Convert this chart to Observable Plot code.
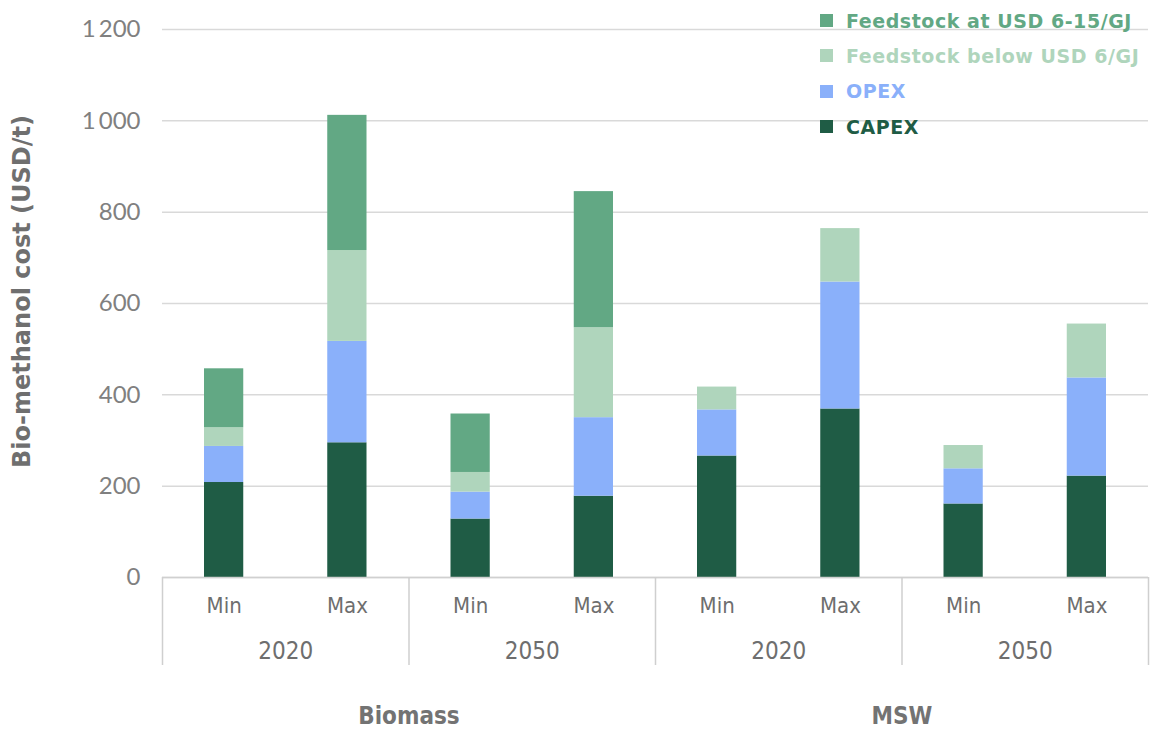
<!DOCTYPE html>
<html>
<head>
<meta charset="utf-8">
<script src="https://cdn.jsdelivr.net/npm/d3@7"></script>
<script src="https://cdn.jsdelivr.net/npm/@observablehq/plot@0.6"></script>
<style>
  html, body { margin: 0; padding: 0; background: #fff; overflow: hidden; }
  #wrap { position: relative; width: 1154px; height: 729px; }
  #wrap svg { overflow: visible; }
  #legend { position: absolute; left: 820px; top: 3px; font-family: "DejaVu Sans", sans-serif; font-weight: bold; font-size: 19px; letter-spacing: 0.55px; }
  #legend .row { display: flex; align-items: center; height: 35.3px; }
  #legend .sw { width: 13px; height: 13px; margin-right: 13px; }
</style>
</head>
<body>
<div id="wrap"><div id="legend"></div></div>
<script>
// ---- data ----
const categories = ["Biomass", "Biomass", "Biomass", "Biomass", "MSW", "MSW", "MSW", "MSW"];
const years = ["2020", "2020", "2050", "2050", "2020", "2020", "2050", "2050"];
const cases = ["Min", "Max", "Min", "Max", "Min", "Max", "Min", "Max"];
const capex = [208, 295, 128, 178, 266, 369, 161, 222];
const opex = [79, 222, 59, 172, 101, 278, 77, 215];
const feedLow = [41, 199, 43, 197, 50, 117, 51, 118];
const feedHigh = [129, 296, 128, 298, 0, 0, 0, 0];
const components = ["CAPEX", "OPEX", "Feedstock below USD 6/GJ", "Feedstock at USD 6-15/GJ"];
const colors = ["#1f5c45", "#8ab0fa", "#afd5bc", "#62a884"];
const legendOrder = ["Feedstock at USD 6-15/GJ", "Feedstock below USD 6/GJ", "OPEX", "CAPEX"];
const yTicks = [0, 200, 400, 600, 800, 1000, 1200];
const yLabel = "Bio-methanol cost (USD/t)";

// ---- table ----
const series = [capex, opex, feedLow, feedHigh];
const rows = [];
cases.forEach((c, i) => {
  components.forEach((comp, k) => {
    rows.push({i, category: categories[i], year: years[i], case: c, component: comp, value: series[k][i]});
  });
});

// group boundaries / midpoints derived from the category arrays
function groupsBy(keyFn) {
  const out = [];
  cases.forEach((_, i) => {
    const key = keyFn(i);
    if (out.length && out[out.length - 1].key === key) out[out.length - 1].end = i + 1;
    else out.push({key, start: i, end: i + 1});
  });
  return out;
}
const yearGroups = groupsBy(i => categories[i] + "|" + years[i]);
const catGroups = groupsBy(i => categories[i]);
const separators = [0, ...yearGroups.map(g => g.end)];

const fmt = d => d >= 1000 ? String(d).replace(/(\d)(\d{3})$/, "$1\u2009$2") : String(d);
const gray = "#808080";
const condensed = "'Liberation Sans Narrow', 'DejaVu Sans Condensed', 'Roboto', sans-serif";

const plot = Plot.plot({
  width: 1154,
  height: 729,
  marginTop: 29,
  marginBottom: 152,
  marginLeft: 162,
  marginRight: 6,
  style: {background: "#fff", fontFamily: "Lato, sans-serif", overflow: "visible"},
  x: {domain: [0, cases.length], label: null},
  y: {domain: [0, 1200], label: null},
  color: {domain: components, range: colors},
  marks: [
    Plot.gridY(yTicks, {stroke: "#d9d9d9", strokeOpacity: 1, strokeWidth: 1.5}),
    Plot.axisY(yTicks, {tickSize: 0, tickPadding: 22, tickFormat: fmt, fontSize: 24, fill: gray, label: null}),
    Plot.rectY(rows, {x1: d => d.i, x2: d => d.i + 1, y: "value", fill: "component", insetLeft: 42, insetRight: 42}),
    Plot.ruleY([0], {stroke: "#d0d0d0", strokeWidth: 1.5}),
    Plot.axisX(separators, {tickSize: 88, tickFormat: () => "", stroke: "#cfcfcf", strokeWidth: 1.5, label: null}),
    Plot.axisX(cases.map((_, i) => i + 0.5), {tickSize: 0, tickPadding: 20, tickFormat: d => cases[Math.floor(d)], fontSize: 22, fontFamily: condensed, fill: "#6e6e6e", label: null}),
    Plot.axisX(yearGroups.map(g => (g.start + g.end) / 2), {tickSize: 0, tickPadding: 64, tickFormat: d => years[d], fontSize: 24, fontFamily: condensed, fill: "#6e6e6e", label: null}),
    Plot.axisX(catGroups.map(g => (g.start + g.end) / 2), {tickSize: 0, tickPadding: 129, tickFormat: d => categories[d], fontSize: 24, fontWeight: "bold", fontFamily: condensed, fill: "#737373", label: null}),
    Plot.text([yLabel], {text: d => d, frameAnchor: "left", textAnchor: "middle", rotate: -90, dx: -140, dy: -12, fontSize: 24, fontWeight: "bold", fontFamily: "'DejaVu Sans', sans-serif", fill: "#6f6f6f"})
  ]
});
document.getElementById("wrap").prepend(plot);

// legend
const legend = document.getElementById("legend");
legendOrder.forEach(name => {
  const c = colors[components.indexOf(name)];
  const row = document.createElement("div");
  row.className = "row";
  row.innerHTML = `<div class="sw" style="background:${c}"></div><span style="color:${c}">${name}</span>`;
  legend.appendChild(row);
});
</script>
</body>
</html>
